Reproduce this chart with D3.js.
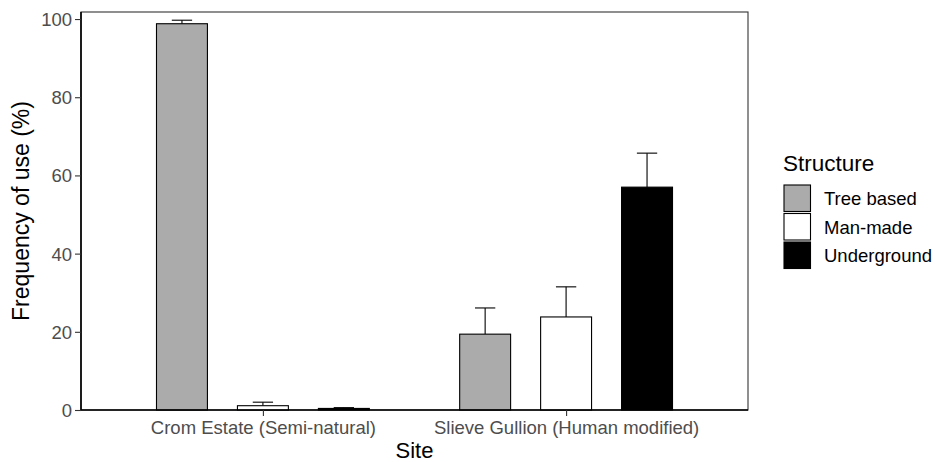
<!DOCTYPE html>
<html><head><meta charset="utf-8">
<script src="https://cdn.jsdelivr.net/npm/d3@7"></script>
<style>body{margin:0;background:#fff}svg{display:block;font-family:"Liberation Sans",Arial,sans-serif}</style>
</head><body><svg id="c" width="935" height="462"></svg>
<script>
const sites = ["Crom Estate (Semi-natural)", "Slieve Gullion (Human modified)"];
const structures = ["Tree based", "Man-made", "Underground"];
const colors = ["#ababab", "#ffffff", "#000000"];
const means = [[98.8, 1.1, 0.4], [19.4, 23.8, 57.0]];
const uppers = [[99.7, 2.0, 0.6], [26.1, 31.5, 65.7]];
const yTicks = [0, 20, 40, 60, 80, 100];

const svg = d3.select("#c");
const L = 81, R = 748, T = 12, B = 410;
const x = d3.scalePoint().domain(sites).range([L, R]).padding(0.6);
const step = x.step();
const dodge = d3.scalePoint().domain(structures).range([-step * 0.267, step * 0.267]);
const barW = step * 0.168, capW = step * 0.067;
const y = d3.scaleLinear().domain([0, 101.8]).range([B, T]);

const data = [];
sites.forEach((s, i) => structures.forEach((k, j) => data.push({s, k, j, v: means[i][j], u: uppers[i][j]})));

svg.append("rect").attr("x", L).attr("y", T).attr("width", R - L).attr("height", B - T)
  .attr("fill", "none").attr("stroke", "#333").attr("stroke-width", 1.1);

const eb = svg.append("g").attr("stroke", "#000").attr("stroke-width", 1.1);
data.forEach(d => {
  const cx = x(d.s) + dodge(d.k);
  eb.append("line").attr("x1", cx).attr("x2", cx).attr("y1", y(d.v)).attr("y2", y(d.u));
  eb.append("line").attr("x1", cx - capW / 2).attr("x2", cx + capW / 2).attr("y1", y(d.u)).attr("y2", y(d.u));
});

svg.append("g").selectAll("rect").data(data).join("rect")
  .attr("x", d => x(d.s) + dodge(d.k) - barW / 2)
  .attr("width", barW)
  .attr("y", d => y(d.v))
  .attr("height", d => y(0) - y(d.v))
  .attr("fill", d => colors[d.j])
  .attr("stroke", "#000").attr("stroke-width", 1.1);

const ya = svg.append("g").attr("transform", `translate(${L},0)`)
  .call(d3.axisLeft(y).tickValues(yTicks).tickSize(6).tickPadding(3));
const xa = svg.append("g").attr("transform", `translate(0,${B})`)
  .call(d3.axisBottom(x).tickSize(6).tickPadding(4));
[ya, xa].forEach(a => {
  a.select(".domain").attr("stroke", "#000").attr("stroke-width", 1.6);
  a.selectAll(".tick line").attr("stroke", "#333").attr("stroke-width", 1.1);
  a.selectAll("text").attr("fill", "#4d4d4d").attr("font-size", 18.5).attr("font-family", "Liberation Sans, Arial, sans-serif");
});
ya.selectAll("text").attr("dy", "0.35em");
xa.selectAll("text").attr("dy", "0.75em");
ya.select(".domain").attr("d", `M0,${B}V${T}`);
xa.select(".domain").attr("d", `M${L},0H${R}`);

svg.append("text").attr("transform", `translate(29,${(T + B) / 2}) rotate(-90)`)
  .attr("text-anchor", "middle").attr("font-size", 23).attr("fill", "#000").text("Frequency of use (%)");
svg.append("text").attr("x", (L + R) / 2).attr("y", 458)
  .attr("text-anchor", "middle").attr("font-size", 22).attr("fill", "#000").text("Site");

const lg = svg.append("g");
lg.append("text").attr("x", 783).attr("y", 171).attr("font-size", 22.5).text("Structure");
structures.forEach((k, j) => {
  const yy = 185 + j * 28.5;
  lg.append("rect").attr("x", 784).attr("y", yy).attr("width", 26.5).attr("height", 26.5)
    .attr("fill", colors[j]).attr("stroke", "#000").attr("stroke-width", 1.1);
  lg.append("text").attr("x", 824).attr("y", yy + 20).attr("font-size", 18.5).attr("fill", "#000").text(k);
});
</script></body></html>
